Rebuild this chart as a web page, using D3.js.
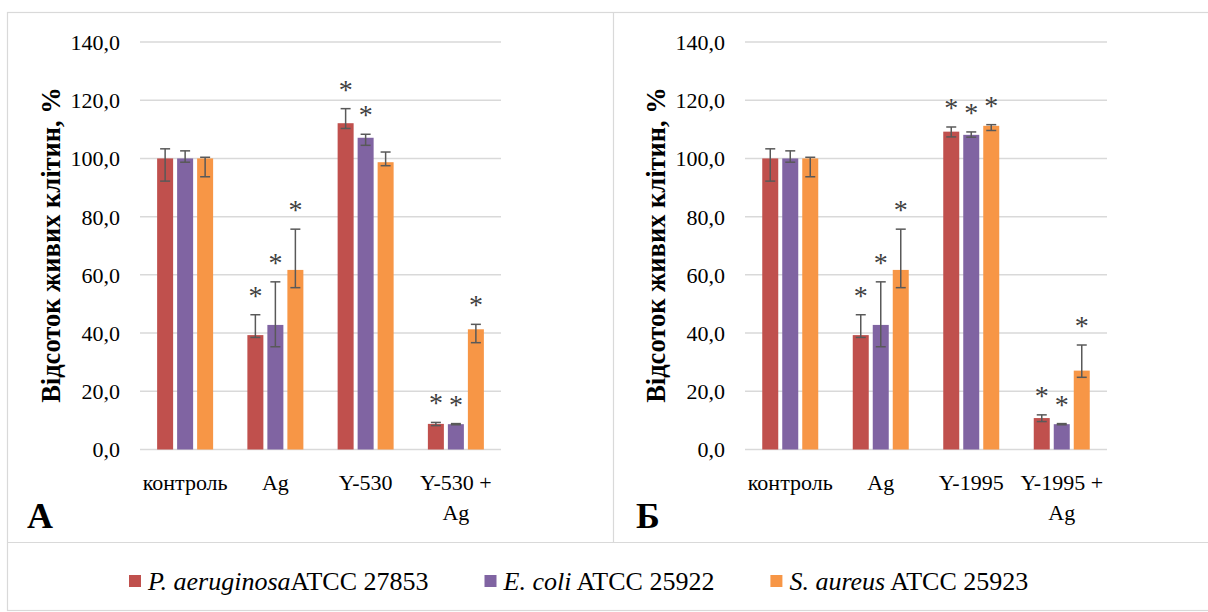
<!DOCTYPE html>
<html>
<head>
<meta charset="utf-8">
<script src="https://cdn.jsdelivr.net/npm/d3@7"></script>
<style>
  body { margin: 0; background: #fff; }
  svg { display: block; }
  svg text { font-family: "Liberation Serif", "Tinos", "Times New Roman", Times, serif; }
</style>
</head>
<body>
<div id="chart"></div>
<script>
"use strict";

// series (bacteria strains)
const seriesNames = ["P. aeruginosa", "E. coli", "S. aureus"];
const seriesStrains = ["ATCC 27853", " ATCC 25922", " ATCC 25923"];
const seriesColors = ["#C0504D", "#8064A2", "#F79646"];

// panel A
const labelsA = [["контроль"], ["Ag"], ["Y-530"], ["Y-530 +", "Ag"]];
const valuesA = [[100, 39.3, 112.1, 8.8], [100, 42.8, 107.1, 8.7], [100, 61.7, 98.7, 41.3]];
const errHighA = [[103.3, 46.3, 117.1, 9.3], [102.6, 57.6, 108.3, 8.9], [100.4, 75.7, 102.2, 43.0]];
const errLowA = [[92.2, 38.5, 110.3, 8.2], [98.7, 35.3, 104.5, 8.5], [93.7, 55.6, 97.5, 36.7]];
const starsA = [[0, 1, 1, 1], [0, 1, 1, 1], [0, 1, 0, 1]];

// panel Б
const labelsB = [["контроль"], ["Ag"], ["Y-1995"], ["Y-1995 +", "Ag"]];
const valuesB = [[100, 39.3, 109.2, 10.8], [100, 42.8, 108.1, 8.7], [100, 61.7, 111.2, 27.1]];
const errHighB = [[103.3, 46.3, 110.8, 11.9], [102.6, 57.6, 109.1, 8.9], [100.4, 75.7, 111.6, 35.9]];
const errLowB = [[92.2, 38.5, 107.4, 9.6], [98.7, 35.3, 107.3, 8.5], [93.7, 55.6, 109.6, 24.8]];
const starsB = [[0, 1, 1, 1], [0, 1, 1, 1], [0, 1, 1, 1]];

const yTicks = [0, 20, 40, 60, 80, 100, 120, 140];
const yTitle = "Відсоток живих клітин, %";

const W = 1208, H = 612;
const GRID = "#d9d9d9";

const svg = d3.select("#chart").append("svg")
    .attr("width", W)
    .attr("height", H);

// outer frame and dividers
svg.append("rect")
    .attr("x", 7.5).attr("y", 12.5)
    .attr("width", W + 10).attr("height", 598)
    .attr("fill", "none").attr("stroke", GRID).attr("stroke-width", 1.2);
svg.append("line")
    .attr("x1", 7.5).attr("x2", W).attr("y1", 542.5).attr("y2", 542.5)
    .attr("stroke", GRID).attr("stroke-width", 1.2);
svg.append("line")
    .attr("x1", 613.5).attr("x2", 613.5).attr("y1", 12.5).attr("y2", 542.5)
    .attr("stroke", GRID).attr("stroke-width", 1.2);

function panel(opts) {
    const g = svg.append("g");
    const left = opts.left, right = opts.right;
    const top = 42, bottom = 449.5;

    const y = d3.scaleLinear().domain([0, 140]).range([bottom, top]);
    const x = d3.scaleBand().domain(d3.range(opts.labels.length)).range([left, right]);
    const xs = d3.scaleBand().domain(d3.range(3)).range([-28, 28]).paddingInner(0.2);

    // gridlines
    g.append("g").selectAll("line")
        .data(yTicks)
        .enter()
        .append("line")
        .attr("x1", left).attr("x2", right)
        .attr("y1", d => y(d)).attr("y2", d => y(d))
        .attr("stroke", GRID)
        .attr("stroke-width", 1.5);

    // y axis labels
    const yAxis = g.append("g")
        .attr("transform", "translate(" + (left - 20) + ",0)")
        .call(d3.axisLeft(y).tickValues(yTicks).tickSize(0).tickPadding(0)
            .tickFormat(d => d.toFixed(1).replace(".", ",")));
    yAxis.select(".domain").remove();
    yAxis.attr("font-family", null);
    yAxis.selectAll("text")
        .attr("font-size", 22)
        .attr("fill", "#000")
        .attr("dy", "0.34em");

    // x axis labels
    const xAxis = g.append("g")
        .attr("transform", "translate(0," + bottom + ")")
        .call(d3.axisBottom(x).tickSize(0).tickFormat(""));
    xAxis.select(".domain").remove();
    xAxis.attr("font-family", null);
    xAxis.selectAll(".tick").each(function(d) {
        const t = d3.select(this).select("text")
            .attr("y", 0).attr("dy", null)
            .attr("font-size", 22)
            .attr("fill", "#000");
        opts.labels[d].forEach((line, i) => {
            t.append("tspan").attr("x", 0).attr("y", 40 + i * 30).text(line);
        });
    });

    // bars
    for (let s = 0; s < 3; s++) {
        const sg = g.append("g");
        const idx = d3.range(opts.labels.length);
        sg.selectAll("rect")
            .data(idx)
            .enter()
            .append("rect")
            .attr("x", i => x(i) + x.bandwidth() / 2 + xs(s))
            .attr("y", i => y(opts.values[s][i]))
            .attr("width", xs.bandwidth())
            .attr("height", i => y(0) - y(opts.values[s][i]))
            .attr("fill", seriesColors[s]);

        const cx = i => x(i) + x.bandwidth() / 2 + xs(s) + xs.bandwidth() / 2;
        sg.selectAll("line.err")
            .data(idx)
            .enter()
            .append("line")
            .attr("class", "err")
            .attr("x1", cx).attr("x2", cx)
            .attr("y1", i => y(opts.errHigh[s][i]))
            .attr("y2", i => y(opts.errLow[s][i]))
            .attr("stroke", "#595959").attr("stroke-width", 1.5);
        [opts.errHigh, opts.errLow].forEach(arr => {
            sg.selectAll(null)
                .data(idx)
                .enter()
                .append("line")
                .attr("x1", i => cx(i) - 5).attr("x2", i => cx(i) + 5)
                .attr("y1", i => y(arr[s][i])).attr("y2", i => y(arr[s][i]))
                .attr("stroke", "#595959").attr("stroke-width", 1.5);
        });

        // significance marks
        sg.selectAll("text")
            .data(idx.filter(i => opts.stars[s][i]))
            .enter()
            .append("text")
            .attr("x", cx)
            .attr("y", i => y(opts.errHigh[s][i]) - 22 + 12)
            .attr("text-anchor", "middle")
            .attr("font-size", 28)
            .attr("fill", "#404040")
            .text("*");
    }

    // y title
    g.append("text")
        .attr("transform", "translate(" + opts.titleX + ",245) rotate(-90)")
        .attr("text-anchor", "middle")
        .attr("font-weight", "bold")
        .attr("font-size", 26.5)
        .text(yTitle);

    // panel letter
    g.append("text")
        .attr("x", opts.letterX)
        .attr("y", 528)
        .attr("font-weight", "bold")
        .attr("font-size", 36)
        .text(opts.letter);
}

panel({left: 140, right: 501, labels: labelsA, values: valuesA, errHigh: errHighA,
       errLow: errLowA, stars: starsA, titleX: 60, letter: "A", letterX: 27});
panel({left: 745, right: 1107, labels: labelsB, values: valuesB, errHigh: errHighB,
       errLow: errLowB, stars: starsB, titleX: 665, letter: "Б", letterX: 636});

// legend
const legend = svg.append("g");
let lx = 129;
seriesNames.forEach((name, i) => {
    legend.append("rect")
        .attr("x", lx).attr("y", 575)
        .attr("width", 12).attr("height", 12)
        .attr("fill", seriesColors[i]);
    const t = legend.append("text")
        .attr("x", lx + 19)
        .attr("y", 590)
        .attr("font-size", 26)
        .attr("fill", "#000");
    t.append("tspan").attr("font-style", "italic").text(name);
    t.append("tspan").text(seriesStrains[i]);
    lx += 19 + t.node().getComputedTextLength() + 56;
});
</script>
</body>
</html>
